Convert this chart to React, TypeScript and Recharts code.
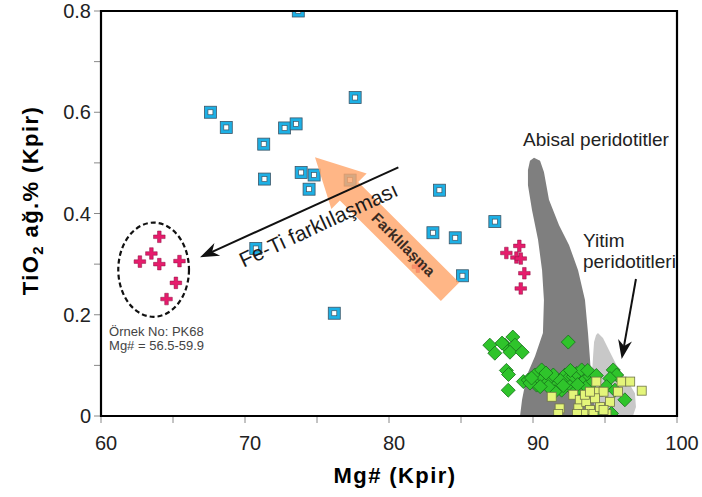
import React from 'react';
import { ScatterChart, Scatter, XAxis, YAxis, ReferenceArea, ReferenceLine, ReferenceDot, Label } from 'recharts';

const FONT = '"Liberation Sans", Arial, Helvetica, sans-serif';

const xTicks = [60, 65, 70, 75, 80, 85, 90, 95, 100];
const yTicks = [0, 0.1, 0.2, 0.3, 0.4, 0.5, 0.6, 0.7, 0.8];

// ophiolite clinopyroxenes (Mg#, TiO2)
const cpxMg = [73.7, 67.6, 68.7, 71.3, 71.35, 72.75, 73.55, 73.9, 74.8, 74.45, 77.65, 77.3, 83.5, 83.05, 84.6, 87.35, 85.1, 76.2, 70.75];
const cpxTi = [0.8, 0.6, 0.57, 0.537, 0.468, 0.569, 0.577, 0.481, 0.476, 0.448, 0.629, 0.466, 0.446, 0.362, 0.352, 0.384, 0.277, 0.203, 0.331];

// gabbro samples, PK68 group first
const gabMg = [64.05, 63.5, 62.7, 64.05, 65.45, 65.2, 64.55, 88.15, 89.05, 88.85, 89.15, 89.4, 89.15, 82.0];
const gabTi = [0.354, 0.321, 0.305, 0.3, 0.306, 0.263, 0.231, 0.322, 0.336, 0.313, 0.311, 0.282, 0.252, 0.295];

// peridotite clinopyroxenes
const perMg = [87.0, 87.35, 88.05, 88.6, 88.75, 88.4, 89.25, 87.85, 88.15, 88.3, 88.28, 92.45,
  89.33, 89.67, 90.13, 90.6, 90.71, 90.25, 91.06, 91.41, 91.64, 92.22, 92.33, 92.8, 93.03, 93.38,
  93.49, 93.26, 92.57, 91.99, 92.91, 93.72, 93.95, 94.19, 91.52, 91.06, 89.79, 89.9, 90.9, 91.9,
  92.6, 93.1, 90.5, 92.1, 93.8, 94.4, 95.57, 95.81, 95.34, 95.11, 95.69, 96.38, 95.45, 94.6];
const perTi = [0.14, 0.124, 0.14, 0.156, 0.14, 0.126, 0.126, 0.144, 0.09, 0.082, 0.051, 0.146,
  0.068, 0.071, 0.081, 0.091, 0.074, 0.061, 0.068, 0.081, 0.061, 0.081, 0.071, 0.078, 0.084, 0.091,
  0.068, 0.055, 0.058, 0.051, 0.048, 0.058, 0.078, 0.068, 0.048, 0.058, 0.065, 0.075, 0.085, 0.07,
  0.09, 0.062, 0.058, 0.06, 0.09, 0.08, 0.091, 0.081, 0.074, 0.058, 0.051, 0.032, 0.005, 0.005];

// harzburgite clinopyroxenes
const hzMg = [91.3, 91.85, 91.75, 92.8, 93.25, 93.15, 93.7, 93.95, 94.4, 94.55, 94.9, 95.35, 95.9,
  96.15, 96.75, 97.55, 94.2, 93.5, 95.1, 94.65, 93.6, 94.3, 93.95, 93.05, 94.9];
const hzTi = [0.038, 0.015, 0.004, 0.042, 0.032, 0.015, 0.028, 0.012, 0.068, 0.048, 0.048, 0.028, 0.048,
  0.068, 0.068, 0.05, 0.004, 0.004, 0.004, 0.018, 0.042, 0.035, 0.048, 0.004, 0.012];

// abyssal peridotite field outline
const abyssalMg = [90.07, 90.49, 90.76, 91.11, 91.81, 92.5, 93.13, 93.61, 93.82, 93.96, 94.1, 94.38,
  89.1, 89.24, 89.58, 90.14, 90.69, 90.76, 90.63, 90.35, 89.93, 89.65, 89.65, 89.79];
const abyssalTi = [0.51, 0.504, 0.482, 0.427, 0.377, 0.338, 0.288, 0.229, 0.164, 0.111, 0.051, 0,
  0, 0.032, 0.081, 0.118, 0.164, 0.229, 0.288, 0.348, 0.407, 0.456, 0.486, 0.504];

// subduction-zone peridotite field outline
const suprMg = [94.38, 94.51, 94.86, 95.35, 95.83, 96.53, 97.08, 97.15, 96.94, 93.96, 94.03, 94.17, 94.24];
const suprTi = [0.16, 0.164, 0.154, 0.126, 0.099, 0.071, 0.045, 0.018, 0, 0, 0.051, 0.117, 0.146];

const pts = (xs: number[], ys: number[]) => xs.map((x, i) => ({ x, y: ys[i] }));

const BlueSquare = ({ cx, cy }: any) => (
  <g>
    <rect x={cx - 6} y={cy - 6} width={12} height={12} fill="#1db0e5" stroke="#3d5566" strokeWidth={0.8} />
    <rect x={cx - 2.5} y={cy - 2.5} width={5} height={5} fill="#fff" stroke="#3d5566" strokeWidth={0.7} />
  </g>
);

const Cross = ({ cx, cy }: any) => {
  const a = 1.8, b = 5.8, c = b - a;
  const d = `M${cx - a},${cy - b}h${2 * a}v${c}h${c}v${2 * a}h${-c}v${c}h${-2 * a}v${-c}h${-c}v${-2 * a}h${c}z`;
  return <path d={d} fill="#e61c6c" stroke="#8a1040" strokeWidth={0.5} />;
};

const Diamond = ({ cx, cy }: any) => (
  <path d={`M${cx},${cy - 7}L${cx + 7},${cy}L${cx},${cy + 7}L${cx - 7},${cy}Z`} fill="#2fc42b" stroke="#17701a" strokeWidth={0.8} />
);

const LimeSquare = ({ cx, cy }: any) => (
  <rect x={cx - 4.5} y={cy - 4.5} width={9} height={9} fill="#e4f57a" stroke="#6f7448" strokeWidth={0.8} />
);

const NoDot = () => <g />;

// thin black arrow with a notched head
const ThinArrow = ({ x1, y1, x2, y2 }: any) => {
  const ang = Math.atan2(y2 - y1, x2 - x1);
  const ux = Math.cos(ang), uy = Math.sin(ang);
  const len = 19, half = 7;
  const bx = x2 - len * ux, by = y2 - len * uy;
  const nx = x2 - len * 0.7 * ux, ny = y2 - len * 0.7 * uy;
  return (
    <g>
      <line x1={x1} y1={y1} x2={nx} y2={ny} stroke="#111" strokeWidth={2} />
      <path d={`M${x2},${y2}L${bx - uy * half},${by + ux * half}L${nx},${ny}L${bx + uy * half},${by - ux * half}Z`} fill="#111" />
    </g>
  );
};

// broad orange trend arrow
const BroadArrow = ({ x1, y1, x2, y2 }: any) => {
  const ang = Math.atan2(y2 - y1, x2 - x1);
  const ux = Math.cos(ang), uy = Math.sin(ang);
  const shaft = 13, head = 25, headLen = 48;
  const hx = x2 - headLen * ux, hy = y2 - headLen * uy;
  const p = (x: number, y: number, s: number) => `${x - uy * s},${y + ux * s}`;
  const d = `M${p(x1, y1, shaft)}L${p(hx, hy, shaft)}L${p(hx, hy, head)}L${x2},${y2}L${p(hx, hy, -head)}L${p(hx, hy, -shaft)}L${p(x1, y1, -shaft)}Z`;
  return <path d={d} fill="#ffa66b" fillOpacity={0.82} />;
};

const Ellipse = ({ x, y, width, height }: any) => (
  <ellipse cx={x + width / 2} cy={y + height / 2} rx={width / 2} ry={height / 2}
    fill="none" stroke="#111" strokeWidth={2.2} strokeDasharray="5 3" />
);

const textAt = (lines: string[], o: any) => (p: any) => (
  <text x={p.cx} y={p.cy} fontFamily={FONT} fontSize={o.size} fontWeight={o.weight || 'normal'}
    fill={o.color || '#222'} textAnchor={o.anchor || 'start'} dominantBaseline={o.baseline || 'auto'}
    transform={o.angle ? `rotate(${o.angle} ${p.cx} ${p.cy})` : undefined}>
    {lines.map((t, i) => (
      <tspan key={i} x={p.cx} dy={i === 0 ? 0 : o.gap}>{t}</tspan>
    ))}
  </text>
);

const XTick = ({ x, y, payload }: any) =>
  payload.value % 10 === 0 ? (
    <text x={x + 5} y={y + 25} textAnchor="middle" fontFamily={FONT} fontSize={20} fill="#222">{payload.value}</text>
  ) : <g />;

const YTick = ({ x, y, payload }: any) =>
  Math.round(payload.value * 10) % 2 === 0 ? (
    <text x={x} y={y + 7} textAnchor="end" fontFamily={FONT} fontSize={20} fill="#222">{payload.value}</text>
  ) : <g />;

const XTitle = ({ viewBox }: any) => (
  <text x={viewBox.x + viewBox.width / 2 + 6} y={viewBox.y + 67} textAnchor="middle" fontFamily={FONT}
    fontSize={22} fontWeight="bold" letterSpacing={1.4} fill="#000">Mg# (Kpir)</text>
);

const YTitle = ({ viewBox }: any) => {
  const cx = 38, cy = viewBox.y + viewBox.height / 2 - 13;
  return (
    <text x={cx} y={cy} transform={`rotate(-90 ${cx} ${cy})`} textAnchor="middle" fontFamily={FONT}
      fontSize={22} fontWeight="bold" letterSpacing={1.4} fill="#000">
      TiO<tspan fontSize={15} dy={5}>2</tspan><tspan dy={-5}> ağ.% (Kpir)</tspan>
    </text>
  );
};

export default function App() {
  return (
    <div style={{ position: 'absolute', left: 0, top: 0, width: 702, height: 497, background: '#fff' }}>
      <ScatterChart width={702} height={497} margin={{ top: 11, right: 25, bottom: 0, left: 0 }}>
        <XAxis type="number" dataKey="x" domain={[60, 100]} ticks={xTicks} allowDataOverflow
          axisLine={false} tickLine={{ stroke: '#888' }} tickSize={7} tickMargin={2} tick={<XTick />} height={81}>
          <Label content={XTitle} />
        </XAxis>
        <YAxis type="number" dataKey="y" domain={[0, 0.8]} ticks={yTicks} allowDataOverflow
          axisLine={false} tickLine={{ stroke: '#888' }} tickSize={7} tickMargin={3} tick={<YTick />} width={101}>
          <Label content={YTitle} />
        </YAxis>

        <Scatter data={pts(suprMg, suprTi)} shape={<NoDot />} line={{ fill: '#c8c8c8', stroke: 'none' }}
          lineJointType="linearClosed" isAnimationActive={false} />
        <Scatter data={pts(abyssalMg, abyssalTi)} shape={<NoDot />} line={{ fill: '#7f7f7f', stroke: 'none' }}
          lineJointType="linearClosed" isAnimationActive={false} />

        <Scatter data={pts(perMg, perTi)} shape={<Diamond />} isAnimationActive={false} />
        <Scatter data={pts(hzMg, hzTi)} shape={<LimeSquare />} isAnimationActive={false} />
        <Scatter data={pts(cpxMg, cpxTi)} shape={<BlueSquare />} isAnimationActive={false} />
        <Scatter data={pts(gabMg, gabTi)} shape={<Cross />} isAnimationActive={false} />

        <ReferenceArea x1={61.2} x2={66.11} y1={0.196} y2={0.382} shape={Ellipse} zIndex={700} />

        <ReferenceLine segment={[{ x: 84.24, y: 0.2455 }, { x: 74.86, y: 0.511 }]} shape={BroadArrow} zIndex={700} />
        <ReferenceLine segment={[{ x: 80.65, y: 0.491 }, { x: 66.875, y: 0.3134 }]} shape={ThinArrow} zIndex={710} />
        <ReferenceLine segment={[{ x: 97.15, y: 0.2706 }, { x: 96.16, y: 0.1126 }]} shape={ThinArrow} zIndex={710} />

        <ReferenceDot x={75.08} y={0.379} zIndex={800}
          shape={textAt(['Fe-Ti farklılaşması'], { size: 21, angle: -25, anchor: 'middle', baseline: 'central', color: '#1a1a1a' })} />
        <ReferenceDot x={81.04} y={0.3397} zIndex={800}
          shape={textAt(['Farklılaşma'], { size: 15, weight: 'bold', angle: 45, anchor: 'middle', baseline: 'central', color: '#3a2a22' })} />
        <ReferenceDot x={89.31} y={0.533} zIndex={800}
          shape={textAt(['Abisal peridotitler'], { size: 19, color: '#222' })} />
        <ReferenceDot x={93.47} y={0.334} zIndex={800}
          shape={textAt(['Yitim', 'peridotitleri'], { size: 19, gap: 21, color: '#222' })} />
        <ReferenceDot x={60.56} y={0.158} zIndex={800}
          shape={textAt(['Örnek No: PK68', 'Mg# = 56.5-59.9'], { size: 13, gap: 14, color: '#444' })} />

        <ReferenceArea x1={60} x2={100} y1={0} y2={0.8} fill="none" fillOpacity={0} stroke="#000" strokeWidth={2.2} zIndex={900} />
      </ScatterChart>
    </div>
  );
}
